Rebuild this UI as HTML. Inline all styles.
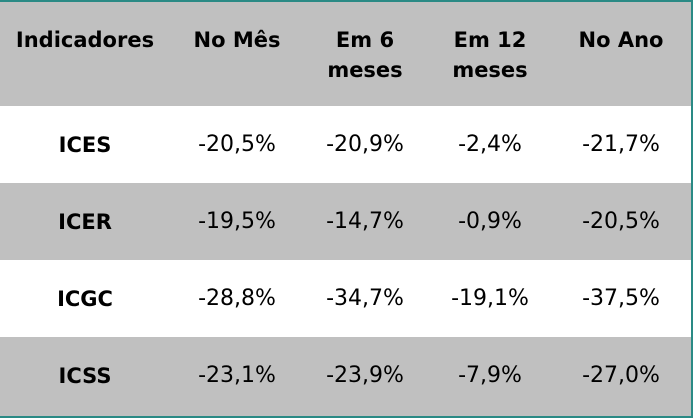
<!DOCTYPE html>
<html><head><style>
body{margin:0;width:696px;height:420px;background:#fff;font-family:"DejaVu Sans","Liberation Sans",sans-serif;overflow:hidden}
.box{position:absolute;left:0;top:0;width:691px;height:414px;border:2px solid #2a8a85;border-left:none;background:#fff}
.row{position:absolute;left:0;width:691px}
.g{background:#c0c0c0}
.t{position:absolute;transform:translateX(-50%);text-align:center;font-size:22px;color:#000;white-space:nowrap;line-height:30px}
.b{font-weight:bold;font-size:21px}
</style></head><body>
<div class="box">
<div class="row g" style="top:0;height:104px"></div>
<div class="row g" style="top:181px;height:77px"></div>
<div class="row g" style="top:335px;height:79px"></div>
</div>
<div class="t b" style="left:85px;top:25px">Indicadores</div>
<div class="t b" style="left:237px;top:25px">No Mês</div>
<div class="t b" style="left:365px;top:25px">Em 6<br>meses</div>
<div class="t b" style="left:490px;top:25px">Em 12<br>meses</div>
<div class="t b" style="left:621px;top:25px">No Ano</div>

<div class="t b" style="left:85px;top:130px">ICES</div>
<div class="t" style="left:237px;top:130px">-20,5%</div>
<div class="t" style="left:365px;top:130px">-20,9%</div>
<div class="t" style="left:490px;top:130px">-2,4%</div>
<div class="t" style="left:621px;top:130px">-21,7%</div>

<div class="t b" style="left:85px;top:207px">ICER</div>
<div class="t" style="left:237px;top:207px">-19,5%</div>
<div class="t" style="left:365px;top:207px">-14,7%</div>
<div class="t" style="left:490px;top:207px">-0,9%</div>
<div class="t" style="left:621px;top:207px">-20,5%</div>

<div class="t b" style="left:85px;top:284px">ICGC</div>
<div class="t" style="left:237px;top:284px">-28,8%</div>
<div class="t" style="left:365px;top:284px">-34,7%</div>
<div class="t" style="left:490px;top:284px">-19,1%</div>
<div class="t" style="left:621px;top:284px">-37,5%</div>

<div class="t b" style="left:85px;top:361px">ICSS</div>
<div class="t" style="left:237px;top:361px">-23,1%</div>
<div class="t" style="left:365px;top:361px">-23,9%</div>
<div class="t" style="left:490px;top:361px">-7,9%</div>
<div class="t" style="left:621px;top:361px">-27,0%</div>
</body></html>
